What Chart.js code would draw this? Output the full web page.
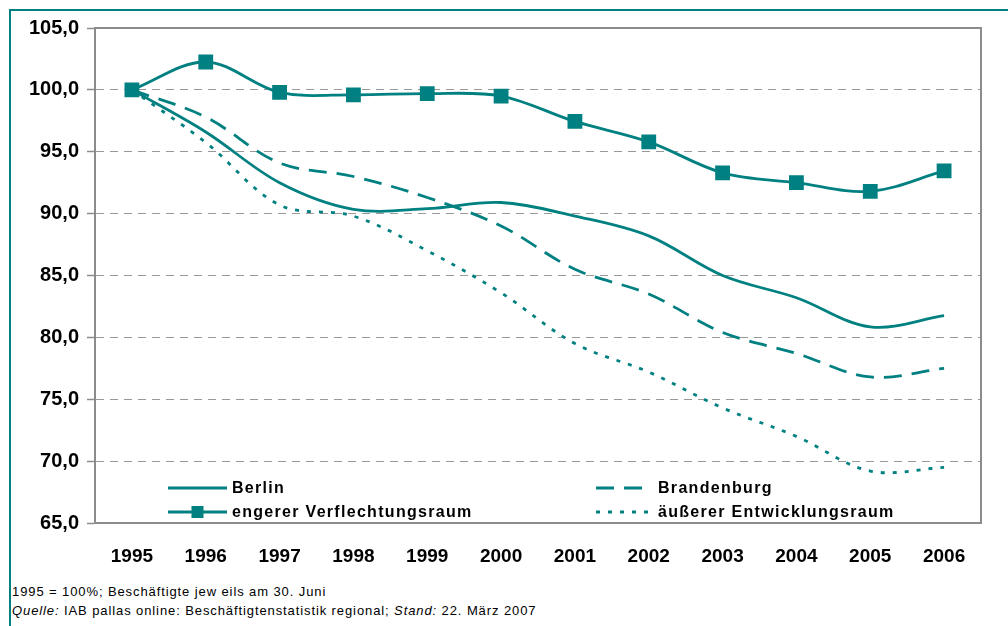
<!DOCTYPE html>
<html><head><meta charset="utf-8">
<script src="https://cdn.jsdelivr.net/npm/chart.js@4/dist/chart.umd.min.js"></script>
<style>
html,body{margin:0;padding:0;background:#fff;width:1008px;height:626px;overflow:hidden;font-family:"Liberation Sans",Arial,sans-serif}
#frame{position:absolute;left:9px;top:9px;width:1100px;height:700px;border-left:2px solid #008080;border-top:2px solid #008080}
#wrap{position:absolute;left:0;top:0;width:1008px;height:580px}
.foot{position:absolute;left:12px;font-size:13px;letter-spacing:0.9px;color:#000;white-space:nowrap}
</style></head><body>
<div id="frame"></div>
<div id="wrap"><canvas id="c" width="1008" height="580"></canvas></div>
<div class="foot" style="top:584px">1995 = 100%; Beschäftigte jew eils am 30. Juni</div>
<div class="foot" style="top:603px"><i>Quelle:</i> IAB pallas online: Beschäftigtenstatistik regional; <i>Stand:</i> 22. März 2007</div>
<script>
const years = ['1995','1996','1997','1998','1999','2000','2001','2002','2003','2004','2005','2006'];
const berlin = [100, 96.6, 92.5, 90.35, 90.4, 90.9, 89.8, 88.2, 85.0, 83.2, 80.85, 81.75];
const brandenburg = [100, 97.8, 94.1, 93.0, 91.3, 89.0, 85.5, 83.5, 80.4, 78.7, 76.8, 77.5];
const engererVR = [100, 102.25, 99.8, 99.6, 99.7, 99.5, 97.45, 95.8, 93.3, 92.5, 91.8, 93.45];
const aeussererER = [100, 95.75, 90.7, 89.8, 87.0, 83.6, 79.5, 77.2, 74.3, 72.0, 69.2, 69.5];
const yTicks = [65, 70, 75, 80, 85, 90, 95, 100, 105];

const TEAL = '#008080';
const legendLayout = [
  {ds: 0, x1: 168, x2: 227, tx: 232, y: 488},
  {ds: 1, x1: 596, x2: 650, tx: 658, y: 488},
  {ds: 2, x1: 168, x2: 227, tx: 232, y: 512},
  {ds: 3, x1: 596, x2: 653, tx: 658, y: 512}
];

const extras = {
  id: 'extras',
  afterDatasetsDraw(chart) {
    const ctx = chart.ctx, a = chart.chartArea;
    ctx.save();
    ctx.strokeStyle = '#8c8c8c';
    ctx.lineWidth = 2;
    ctx.setLineDash([]);
    ctx.beginPath();
    ctx.moveTo(a.left, a.top); ctx.lineTo(a.right, a.top); ctx.lineTo(a.right, a.bottom);
    ctx.stroke();
    legendLayout.forEach(L => {
      const ds = chart.data.datasets[L.ds];
      ctx.strokeStyle = ds.borderColor;
      ctx.lineWidth = ds.borderWidth;
      ctx.setLineDash(ds.borderDash || []);
      ctx.beginPath(); ctx.moveTo(L.x1, L.y); ctx.lineTo(L.x2, L.y); ctx.stroke();
      ctx.setLineDash([]);
      if (ds.pointRadius > 0) {
        ctx.fillStyle = ds.borderColor;
        const cx = (L.x1 + L.x2) / 2;
        ctx.fillRect(cx - 6, L.y - 6, 12, 12);
      }
      ctx.fillStyle = '#000';
      ctx.font = 'bold 16px "Liberation Sans", Arial, sans-serif';
      ctx.letterSpacing = '1.3px';
      ctx.textBaseline = 'middle';
      ctx.textAlign = 'left';
      ctx.fillText(ds.label, L.tx, L.y + 1);
    });
    ctx.restore();
  }
};

new Chart(document.getElementById('c'), {
  type: 'line',
  data: {
    labels: years,
    datasets: [
      {label: 'Berlin', data: berlin, borderColor: TEAL, borderWidth: 2.8, pointRadius: 0, tension: 0.35, fill: false},
      {label: 'Brandenburg', data: brandenburg, borderColor: TEAL, borderWidth: 2.8, borderDash: [18, 10], pointRadius: 0, tension: 0.35, fill: false},
      {label: 'engerer Verflechtungsraum', data: engererVR, borderColor: TEAL, backgroundColor: TEAL, borderWidth: 2.8, pointStyle: 'rect', pointRadius: 8.5, pointHoverRadius: 8.5, tension: 0.35, fill: false},
      {label: 'äußerer Entwicklungsraum', data: aeussererER, borderColor: TEAL, borderWidth: 2.8, borderDash: [4, 8], pointRadius: 0, tension: 0.35, fill: false}
    ]
  },
  options: {
    responsive: false,
    animation: false,
    events: [],
    layout: {padding: {left: 0, right: 27, top: 28, bottom: 0}},
    plugins: {legend: {display: false}, tooltip: {enabled: false}},
    scales: {
      x: {
        offset: true,
        grid: {display: false, drawTicks: false},
        border: {display: true, color: '#8c8c8c', width: 2},
        ticks: {color: '#000', padding: 22, font: {size: 19, weight: 'bold', family: '"Liberation Sans", Arial, sans-serif'}, maxRotation: 0},
        afterFit: s => { s.height = 57; }
      },
      y: {
        min: 65, max: 105,
        afterBuildTicks: s => { s.ticks = yTicks.map(v => ({value: v})); },
        grid: {color: '#999', tickLength: 8, tickColor: '#8c8c8c', tickBorderDash: [], tickWidth: 1.5},
        border: {display: true, color: '#8c8c8c', width: 2, dash: [8, 6]},
        ticks: {color: '#000', padding: 8, font: {size: 20, weight: 'bold', family: '"Liberation Sans", Arial, sans-serif'},
          callback: v => Number(v).toFixed(1).replace('.', ',')},
        afterFit: s => { s.width = 95; }
      }
    }
  },
  plugins: [extras]
});
</script>
</body></html>
